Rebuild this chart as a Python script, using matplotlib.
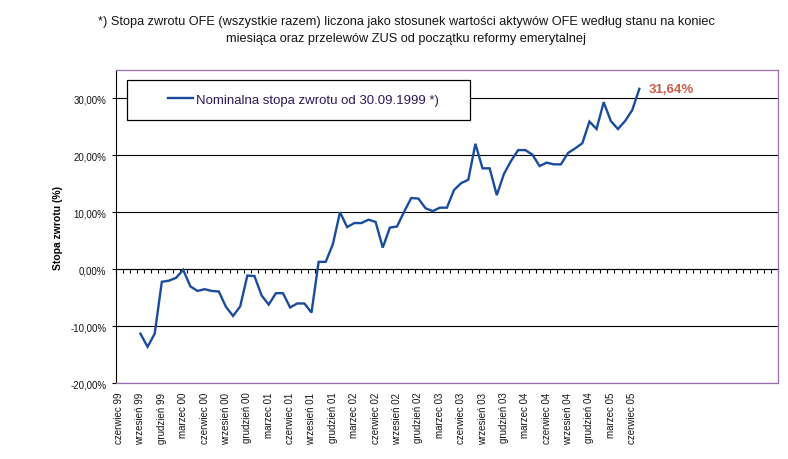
import matplotlib
matplotlib.use('Agg')
import matplotlib.pyplot as plt
from matplotlib.patches import Rectangle
from matplotlib.ticker import FixedLocator, NullFormatter
import numpy as np

plt.rcParams['font.family'] = ['Liberation Sans', 'DejaVu Sans']

# ---------------- data ----------------
n_categories = 93          # monthly category slots on the axis (June 1999 onwards)
label_step = 3
tick_labels = ["czerwiec 99", "wrzesień 99", "grudzień 99", "marzec 00",
               "czerwiec 00", "wrzesień 00", "grudzień 00", "marzec 01",
               "czerwiec 01", "wrzesień 01", "grudzień 01", "marzec 02",
               "czerwiec 02", "wrzesień 02", "grudzień 02", "marzec 03",
               "czerwiec 03", "wrzesień 03", "grudzień 03", "marzec 04",
               "czerwiec 04", "wrzesień 04", "grudzień 04", "marzec 05",
               "czerwiec 05"]
first_index = 3            # series starts in September 1999
series_name = "Nominalna stopa zwrotu od 30.09.1999 *)"
values = [-11.3, -13.6, -11.3, -2.2, -2.0, -1.5, -0.1, -3.0, -3.8, -3.5,
          -3.8, -3.9, -6.6, -8.2, -6.5, -1.1, -1.2, -4.6, -6.2, -4.2,
          -4.2, -6.7, -6.0, -6.0, -7.6, 1.3, 1.3, 4.4, 10.0, 7.4,
          8.1, 8.1, 8.7, 8.3, 3.8, 7.3, 7.5, 10.1, 12.5, 12.4,
          10.7, 10.2, 10.8, 10.8, 13.9, 15.1, 15.7, 22.0, 17.7, 17.7,
          13.0, 16.7, 19.0, 20.9, 20.9, 20.1, 18.1, 18.7, 18.4, 18.4,
          20.4, 21.2, 22.1, 25.9, 24.6, 29.3, 26.0, 24.6, 26.0, 27.9,
          31.64]
y_ticks = [-20, -10, 0, 10, 20, 30]
title = ("*) Stopa zwrotu OFE (wszystkie razem) liczona jako stosunek wartości aktywów OFE według stanu na koniec\n"
         "miesiąca oraz przelewów ZUS od początku reformy emerytalnej")
y_label = "Stopa zwrotu (%)"

# ---------------- style ----------------
W, H = 788, 460
line_color = '#1A4C9E'
border_color = '#9B6DAD'
text_color = '#141414'
legend_text_color = '#2A1858'
annot_color = '#CD5C4A'

fig = plt.figure(figsize=(W / 100, H / 100), dpi=100)
ax = fig.add_axes([115.5 / W, (H - 384.3) / H, (778.3 - 115.5) / W, (384.3 - 70.7) / H])

x = np.arange(first_index, first_index + len(values))
ax.plot(x, values, color=line_color, lw=1.7, solid_joinstyle='miter', zorder=3,
        label=series_name)

ax.set_xlim(-0.5, n_categories - 0.5)
ax.set_ylim(-20, 35)

# y axis
ax.set_yticks(y_ticks)
ax.set_yticklabels([f"{v:.2f}%".replace('.', ',') for v in y_ticks],
                   fontsize=7, color=text_color)
ax.tick_params(axis='y', direction='out', length=3, width=0.8, pad=3.5, colors='black',
               labelcolor=text_color)
ax.yaxis.grid(True, color='black', lw=0.8)
ax.set_axisbelow(True)
ax.set_ylabel(y_label, fontsize=7.5, fontweight='bold', color='black', labelpad=5)

# x axis labels at the bottom border
label_pos = np.arange(0, len(tick_labels) * label_step, label_step)
ax.set_xticks(label_pos)
ax.set_xticklabels(tick_labels, rotation=90, fontsize=7, color=text_color, va='top')
ax.tick_params(axis='x', length=0, pad=6)

# spines
for s in ['top', 'right', 'bottom']:
    ax.spines[s].set_color(border_color)
    ax.spines[s].set_linewidth(0.9)
ax.spines['left'].set_color('black')
ax.spines['left'].set_linewidth(0.8)

# category axis crossing at 0 with tick marks between categories
sec = ax.secondary_xaxis(0, transform=ax.transData)
sec.xaxis.set_major_locator(FixedLocator(np.arange(n_categories + 1) - 0.5))
sec.xaxis.set_major_formatter(NullFormatter())
sec.tick_params(axis='x', direction='out', length=3, width=0.8, colors='black')
sec.spines['bottom'].set_color('black')
sec.spines['bottom'].set_linewidth(0.8)

# annotation of the last value
last = values[-1]
ax.annotate(f"{last:.2f}%".replace('.', ','), xy=(x[-1], last), xytext=(6.5, 0),
            textcoords='offset points', fontsize=9.5, fontweight='bold',
            color=annot_color, va='center', ha='left')

# legend box (white, covering the grid) and legend entry
box = Rectangle((127 / W, 1 - 121 / H), 343 / W, 40 / H, transform=fig.transFigure,
                facecolor='white', edgecolor='black', lw=0.9, zorder=4)
ax.add_artist(box)
box.set_clip_on(False)
leg = ax.legend(loc='center', bbox_to_anchor=(303.5 / W, 1 - 101 / H),
                bbox_transform=fig.transFigure, frameon=False, fontsize=9.5,
                handlelength=1.9, handletextpad=0.25, borderpad=0)
leg.set_zorder(5)
for t in leg.get_texts():
    t.set_color(legend_text_color)

# title
fig.text(406 / W, 1 - 16 / H, title, ha='center', va='top', fontsize=9.2,
         color=text_color, linespacing=1.6)

fig.savefig('out.png', dpi=100)
